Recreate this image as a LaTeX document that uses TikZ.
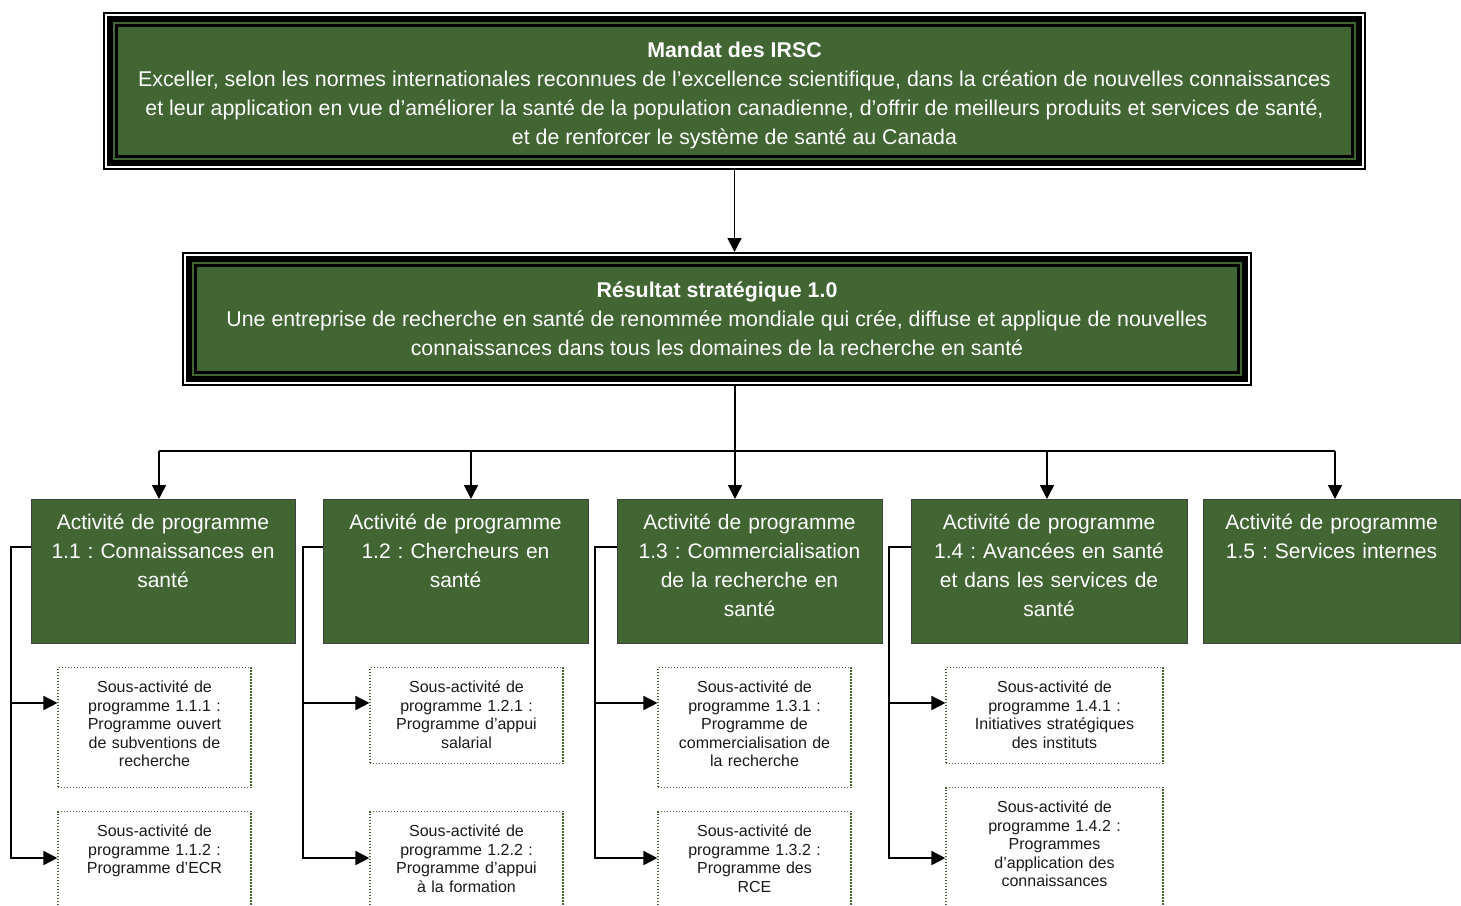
\documentclass[tikz,border=0pt]{standalone}
\usepackage{fontspec}
\setmainfont{Liberation Sans}
\frenchspacing
\usetikzlibrary{arrows.meta}
\definecolor{irscgreen}{RGB}{65,102,51}
\tikzset{
  bigtxt/.style={font=\fontsize{21}{29}\selectfont},
  smalltxt/.style={font=\fontsize{16}{18.5}\selectfont},
  framed/.style={font=\fontsize{21.35}{29}\selectfont, text=white, align=center, fill=irscgreen, draw=black,
    line width=3pt, inner sep=0pt, outer sep=13.5pt,
    preaction={draw=black, line width=27pt},
    preaction={draw=white, line width=23pt},
    preaction={draw=black, line width=19pt},
    preaction={draw=irscgreen, line width=7pt}},
  act/.style={bigtxt, text=white, align=center, fill=irscgreen, draw=black!75,
    line width=0.8pt, inner sep=0pt, anchor=north, text height=30.5pt, text depth=113.5pt},
  sub/.style={smalltxt, text=black!90, align=center, draw=irscgreen, line width=1.2pt,
    dash pattern=on 1.2pt off 1.8pt, inner sep=0pt, anchor=north, text height=25pt},
  lnk/.style={line width=1.8pt},
  arr/.style={lnk, -{Triangle[length=14pt,width=14pt]}}
}
\begin{document}
\begin{tikzpicture}[x=1pt,y=1pt]
  \useasboundingbox (0,0) rectangle (1461,-905);

  %% mandat and strategic outcome
  \node[framed, minimum width=1236pt, minimum height=131pt] (mandat) at (734.5,-91)
    {\rule{0pt}{25pt}\textbf{Mandat des IRSC}\\
     Exceller, selon les normes internationales reconnues de l’excellence scientifique, dans la création de nouvelles connaissances\\
     et leur application en vue d’améliorer la santé de la population canadienne, d’offrir de meilleurs produits et services de santé,\\
     et de renforcer le système de santé au Canada};
  \node[framed, minimum width=1043pt, minimum height=107pt] (strat) at (717,-319)
    {\textbf{Résultat stratégique 1.0}\\
     Une entreprise de recherche en santé de renommée mondiale qui crée, diffuse et applique de nouvelles\\
     connaissances dans tous les domaines de la recherche en santé};

  %% program activities
  \node[act, text width=264pt] (a11) at (163,-499) {Activité de programme\\1.1 : Connaissances en\\santé};
  \node[act, text width=265pt] (a12) at (455.5,-499) {Activité de programme\\1.2 : Chercheurs en\\santé};
  \node[act, text width=265pt] (a13) at (749.5,-499) {Activité de programme\\1.3 : Commercialisation\\de la recherche en\\santé};
  \node[act, text width=276pt] (a14) at (1049,-499) {Activité de programme\\1.4 : Avancées en santé\\et dans les services de\\santé};
  \node[act, text width=257pt] (a15) at (1331.5,-499) {Activité de programme\\1.5 : Services internes};

  %% sub-activities
  \node[sub, text width=193pt, text depth=95pt] (s111) at (154.5,-667) {Sous-activité de\\programme 1.1.1 :\\Programme ouvert\\de subventions de\\recherche};
  \node[sub, text width=193pt, text depth=100pt] (s112) at (154.5,-811) {Sous-activité de\\programme 1.1.2 :\\Programme d’ECR};
  \node[sub, text width=193pt, text depth=71pt] (s121) at (466.5,-667) {Sous-activité de\\programme 1.2.1 :\\Programme d’appui\\salarial};
  \node[sub, text width=193pt, text depth=100pt] (s122) at (466.5,-811) {Sous-activité de\\programme 1.2.2 :\\Programme d’appui\\à la formation};
  \node[sub, text width=193pt, text depth=95pt] (s131) at (754.5,-667) {Sous-activité de\\programme 1.3.1 :\\Programme de\\commercialisation de\\la recherche};
  \node[sub, text width=193pt, text depth=100pt] (s132) at (754.5,-811) {Sous-activité de\\programme 1.3.2 :\\Programme des\\RCE};
  \node[sub, text width=217pt, text depth=71pt] (s141) at (1054.5,-667) {Sous-activité de\\programme 1.4.1 :\\Initiatives stratégiques\\des instituts};
  \node[sub, text width=217pt, text depth=100pt] (s142) at (1054.5,-787) {Sous-activité de\\programme 1.4.2 :\\Programmes\\d’application des\\connaissances};

  %% connectors
  \coordinate (b1) at (159,-451);
  \coordinate (b2) at (471,-451);
  \coordinate (b3) at (735,-451);
  \coordinate (b4) at (1047,-451);
  \coordinate (b5) at (1335,-451);

  \draw[arr] (mandat.south) -- (mandat.south |- strat.north);
  \draw[lnk] (strat.south -| b3) -- (b3);
  \draw[lnk] (b1) -- (b5);
  \draw[arr] (b1) -- (b1 |- a11.north);
  \draw[arr] (b2) -- (b2 |- a12.north);
  \draw[arr] (b3) -- (b3 |- a13.north);
  \draw[arr] (b4) -- (b4 |- a14.north);
  \draw[arr] (b5) -- (b5 |- a15.north);

  \draw[arr] ([yshift=-48pt]a11.north west) -- ++(-20,0) |- ([yshift=-36pt]s111.north west);
  \draw[arr] ([yshift=-48pt]a11.north west) -- ++(-20,0) |- ([yshift=-47pt]s112.north west);
  \draw[arr] ([yshift=-48pt]a12.north west) -- ++(-20,0) |- ([yshift=-36pt]s121.north west);
  \draw[arr] ([yshift=-48pt]a12.north west) -- ++(-20,0) |- ([yshift=-47pt]s122.north west);
  \draw[arr] ([yshift=-48pt]a13.north west) -- ++(-22,0) |- ([yshift=-36pt]s131.north west);
  \draw[arr] ([yshift=-48pt]a13.north west) -- ++(-22,0) |- ([yshift=-47pt]s132.north west);
  \draw[arr] ([yshift=-48pt]a14.north west) -- ++(-22,0) |- ([yshift=-36pt]s141.north west);
  \draw[arr] ([yshift=-48pt]a14.north west) -- ++(-22,0) |- ([yshift=-71pt]s142.north west);
\end{tikzpicture}
\end{document}
